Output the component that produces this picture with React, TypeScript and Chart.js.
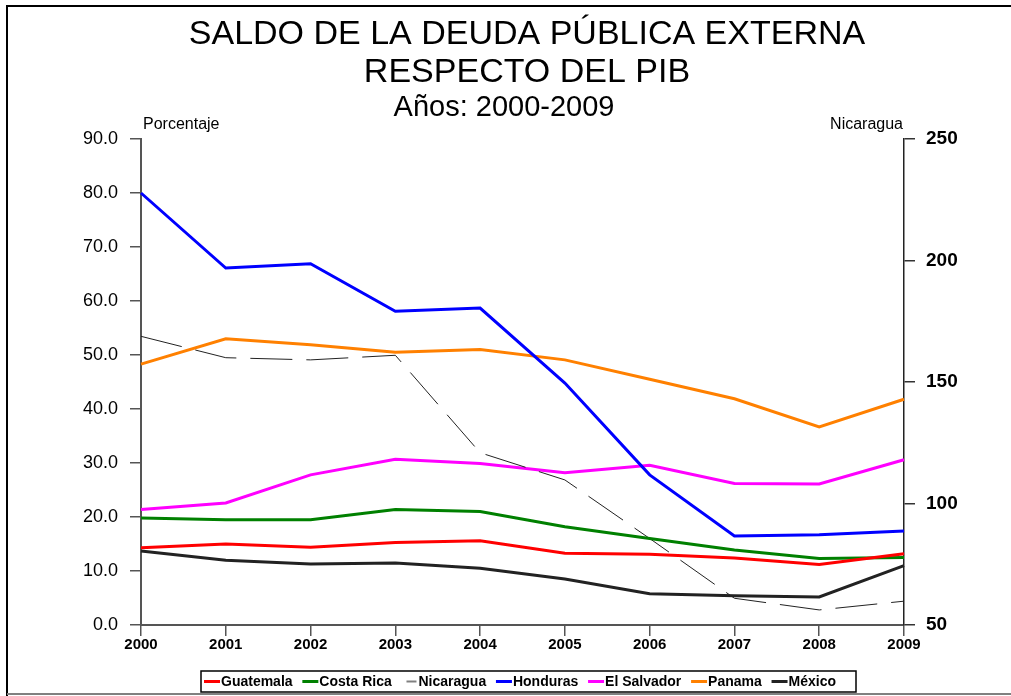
import React, { useEffect, useRef } from "react";
import { Chart, registerables } from "chart.js";

Chart.register(...registerables);

const years = ["2000", "2001", "2002", "2003", "2004", "2005", "2006", "2007", "2008", "2009"];
const guatemala = [14.3, 15.0, 14.4, 15.3, 15.6, 13.3, 13.1, 12.4, 11.2, 13.2];
const costaRica = [19.8, 19.5, 19.5, 21.4, 21.0, 18.2, 16.0, 13.9, 12.3, 12.5];
const nicaragua = [168.8, 160.0, 159.1, 161.0, 120.9, 109.7, 85.6, 61.0, 56.2, 59.8];
const honduras = [80.0, 66.1, 66.9, 58.1, 58.7, 44.8, 27.8, 16.5, 16.7, 17.4];
const elSalvador = [21.4, 22.6, 27.8, 30.7, 29.9, 28.2, 29.6, 26.2, 26.1, 30.6];
const panama = [48.3, 53.0, 51.9, 50.5, 51.0, 49.1, 45.5, 41.9, 36.7, 41.8];
const mexico = [13.7, 12.0, 11.3, 11.5, 10.5, 8.5, 5.8, 5.4, 5.2, 11.0];

const titleLines = ["SALDO DE LA DEUDA PÚBLICA EXTERNA", "RESPECTO DEL PIB"];
const subtitle = "Años: 2000-2009";
const leftAxisTitle = "Porcentaje";
const rightAxisTitle = "Nicaragua";

const FONT = '"Liberation Sans", Arial, sans-serif';

const decorPlugin = {
  id: "decor",
  afterDraw(chart: any) {
    const ctx = chart.ctx;
    const area = chart.chartArea;
    ctx.save();
    // frame
    ctx.strokeStyle = "#000";
    ctx.lineWidth = 2;
    ctx.beginPath();
    ctx.moveTo(7, 700);
    ctx.lineTo(7, 6);
    ctx.lineTo(1011, 6);
    ctx.stroke();
    ctx.strokeStyle = "#808080";
    ctx.beginPath();
    ctx.moveTo(7, 694);
    ctx.lineTo(1011, 694);
    ctx.stroke();

    // titles
    ctx.fillStyle = "#000";
    ctx.textAlign = "center";
    ctx.textBaseline = "alphabetic";
    ctx.font = `34px ${FONT}`;
    ctx.fillText(titleLines[0], 527, 44);
    ctx.fillText(titleLines[1], 527, 82);
    ctx.font = `29px ${FONT}`;
    ctx.fillText(subtitle, 504, 116);

    // axis titles
    ctx.font = `16px ${FONT}`;
    ctx.textAlign = "left";
    ctx.fillText(leftAxisTitle, area.left + 2, 129);
    ctx.textAlign = "right";
    ctx.fillText(rightAxisTitle, area.right - 1, 129);

    // legend
    const ds = chart.data.datasets;
    ctx.font = `bold 14px ${FONT}`;
    const lineW = 16;
    const afterLine = 1;
    const widths = ds.map((d: any) => ctx.measureText(d.label).width);
    const boxL = 201, boxR = 856, boxT = 671, boxB = 692;
    const startX = boxL + 3;
    const endX = 836;
    const used = widths.reduce((a: number, b: number) => a + b, 0) + ds.length * (lineW + afterLine);
    const gap = (endX - startX - used) / (ds.length - 1);
    ctx.strokeStyle = "#000";
    ctx.lineWidth = 1.5;
    ctx.strokeRect(boxL, boxT, boxR - boxL, boxB - boxT);
    let x = startX;
    const cy = (boxT + boxB) / 2;
    ds.forEach((d: any, i: number) => {
      ctx.beginPath();
      if (d.borderDash && d.borderDash.length) {
        ctx.strokeStyle = "#808080";
        ctx.lineWidth = 2;
        ctx.moveTo(x + 5, cy);
        ctx.lineTo(x + lineW - 1, cy);
      } else {
        ctx.strokeStyle = d.borderColor;
        ctx.lineWidth = 3;
        ctx.moveTo(x, cy);
        ctx.lineTo(x + lineW, cy);
      }
      ctx.stroke();
      ctx.fillStyle = "#000";
      ctx.textAlign = "left";
      ctx.textBaseline = "middle";
      ctx.fillText(d.label, x + lineW + afterLine, cy + 1);
      x += lineW + afterLine + widths[i] + gap;
    });
    ctx.restore();
  },
};

export default function App() {
  const ref = useRef<HTMLCanvasElement | null>(null);
  useEffect(() => {
    if (!ref.current) return;
    const mk = (label: string, data: number[], color: string, extra: any = {}) => ({
      label,
      data,
      borderColor: color,
      backgroundColor: color,
      borderWidth: 3,
      pointRadius: 0,
      tension: 0,
      yAxisID: "y",
      ...extra,
    });
    const chart = new Chart(ref.current, {
      type: "line",
      data: {
        labels: years,
        datasets: [
          mk("Guatemala", guatemala, "#FF0000"),
          mk("Costa Rica", costaRica, "#008000"),
          mk("Nicaragua", nicaragua, "#222222", { borderWidth: 1, borderDash: [42, 14], yAxisID: "y2" }),
          mk("Honduras", honduras, "#0000FF"),
          mk("El Salvador", elSalvador, "#FF00FF"),
          mk("Panama", panama, "#FF8000"),
          mk("México", mexico, "#222222"),
        ],
      },
      options: {
        responsive: false,
        animation: false,
        devicePixelRatio: 1,
        layout: { padding: { top: 139, left: 0, right: 0, bottom: 0 } },
        plugins: {
          legend: { display: false },
          title: { display: false },
          tooltip: { enabled: false },
        },
        scales: {
          x: {
            type: "category",
            offset: false,
            grid: { drawOnChartArea: false, tickLength: 11, color: "#555", lineWidth: 1.5 },
            border: { color: "#555", width: 2 },
            ticks: {
              font: { family: FONT, size: 15, weight: "bold" },
              color: "#000",
              padding: 0,
              maxRotation: 0,
              autoSkip: false,
            },
            afterFit: (s: any) => {
              s.height = 71;
            },
          },
          y: {
            position: "left",
            min: 0,
            max: 90,
            grid: { drawOnChartArea: false, tickLength: 11, color: "#555", lineWidth: 1.5 },
            border: { color: "#555", width: 2 },
            ticks: {
              stepSize: 10,
              font: { family: FONT, size: 18 },
              color: "#000",
              padding: 12,
              callback: (v: any) => Number(v).toFixed(1),
            },
            afterFit: (s: any) => {
              s.width = 141;
            },
          },
          y2: {
            position: "right",
            min: 50,
            max: 250,
            grid: { drawOnChartArea: false, tickLength: 11, color: "#333", lineWidth: 1.5 },
            border: { color: "#222", width: 1.5 },
            ticks: {
              stepSize: 50,
              font: { family: FONT, size: 19, weight: "bold" },
              color: "#000",
              padding: 11,
            },
            afterFit: (s: any) => {
              s.width = 107;
            },
          },
        },
      },
      plugins: [decorPlugin],
    });
    return () => chart.destroy();
  }, []);
  return (
    <div style={{ position: "fixed", left: 0, top: 0, width: 1011, height: 696, background: "#fff" }}>
      <canvas ref={ref} width={1011} height={696} />
    </div>
  );
}
